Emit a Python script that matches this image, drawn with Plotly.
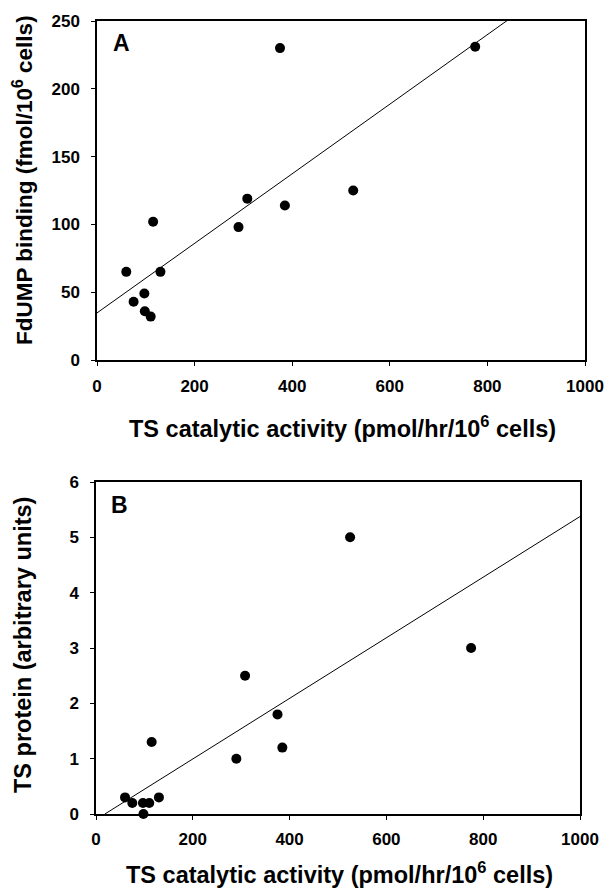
import numpy as np
import plotly.graph_objects as go

# Data
ts_activity = [60, 75, 97, 98, 110, 115, 130, 290, 308, 375, 385, 525, 775]
fdump_binding = [65, 43, 49, 36, 32, 102, 65, 98, 119, 230, 114, 125, 231]
ts_protein = [0.3, 0.2, 0.2, 0.0, 0.2, 1.3, 0.3, 1.0, 2.5, 1.8, 1.2, 5.0, 3.0]

x_ticks = [0, 200, 400, 600, 800, 1000]
yA_ticks = [0, 50, 100, 150, 200, 250]
yB_ticks = [0, 1, 2, 3, 4, 5, 6]

x_title = "TS catalytic activity (pmol/hr/10<sup>6</sup> cells)"
yA_title = "FdUMP binding (fmol/10<sup>6</sup> cells)"
yB_title = "TS protein (arbitrary units)"

# Least-squares fits
x = np.array(ts_activity, dtype=float)
sA, iA = np.polyfit(x, np.array(fdump_binding, dtype=float), 1)
sB, iB = np.polyfit(x, np.array(ts_protein, dtype=float), 1)
xfit = np.array([0.0, 1000.0])
xfitB = np.array([-iB / sB, 1000.0])

W, H = 610, 894
FONT = "Liberation Sans, Arial, sans-serif"

fig = go.Figure()

mk = dict(color="black", size=10, line=dict(width=0))
fig.add_trace(go.Scatter(x=ts_activity, y=fdump_binding, mode="markers", marker=mk,
                         xaxis="x", yaxis="y", showlegend=False))
fig.add_trace(go.Scatter(x=xfit, y=sA * xfit + iA, mode="lines",
                         line=dict(color="black", width=1), xaxis="x", yaxis="y", showlegend=False))
fig.add_trace(go.Scatter(x=ts_activity, y=ts_protein, mode="markers", marker=mk,
                         xaxis="x2", yaxis="y2", showlegend=False, cliponaxis=False))
fig.add_trace(go.Scatter(x=xfitB, y=sB * xfitB + iB, mode="lines",
                         line=dict(color="black", width=1), xaxis="x2", yaxis="y2", showlegend=False))

tickfont = dict(family=FONT, size=17, color="black", weight="bold")


def px_x(p):
    return p / W


def px_y(p):
    return 1 - p / H


common_axis = dict(showline=True, linecolor="black", linewidth=1.5, mirror=True,
                   ticks="outside", ticklen=4, tickwidth=1, tickcolor="black",
                   showgrid=False, zeroline=False, tickfont=tickfont, automargin=False)

fig.update_layout(
    width=W, height=H,
    margin=dict(l=0, r=0, t=0, b=0),
    paper_bgcolor="white", plot_bgcolor="white",
    xaxis=dict(domain=[px_x(97), px_x(585)], range=[0, 1000], tickvals=x_ticks,
               anchor="y", ticklabelstandoff=6, **common_axis),
    yaxis=dict(domain=[px_y(360), px_y(21)], range=[0, 250], tickvals=yA_ticks,
               anchor="x", ticklabelstandoff=8, **common_axis),
    xaxis2=dict(domain=[px_x(96), px_x(580)], range=[0, 1000], tickvals=x_ticks,
                anchor="y2", ticklabelstandoff=5, **common_axis),
    yaxis2=dict(domain=[px_y(814), px_y(482)], range=[0, 6], tickvals=yB_ticks,
                anchor="x2", ticklabelstandoff=8, **common_axis),
)

titlefont_x = dict(family=FONT, size=23.5, color="black", weight="bold")
titlefont_yA = dict(family=FONT, size=22.5, color="black", weight="bold")
titlefont_yB = dict(family=FONT, size=23.5, color="black", weight="bold")
panelfont = dict(family=FONT, size=23, color="black", weight="bold")

annotations = [
    dict(text=x_title, x=px_x(342), y=px_y(427), font=titlefont_x),
    dict(text=x_title, x=px_x(340), y=px_y(873), font=titlefont_x),
    dict(text=yA_title, x=px_x(23), y=px_y(180), font=titlefont_yA, textangle=-90),
    dict(text=yB_title, x=px_x(23), y=px_y(645), font=titlefont_yB, textangle=-90),
    dict(text="A", x=px_x(111), y=px_y(43), font=panelfont, xanchor="left"),
    dict(text="B", x=px_x(109), y=px_y(505), font=panelfont, xanchor="left"),
]
for a in annotations:
    a.setdefault("xanchor", "center")
    fig.add_annotation(xref="paper", yref="paper", showarrow=False, yanchor="middle", **a)

fig.write_html("out.html")
